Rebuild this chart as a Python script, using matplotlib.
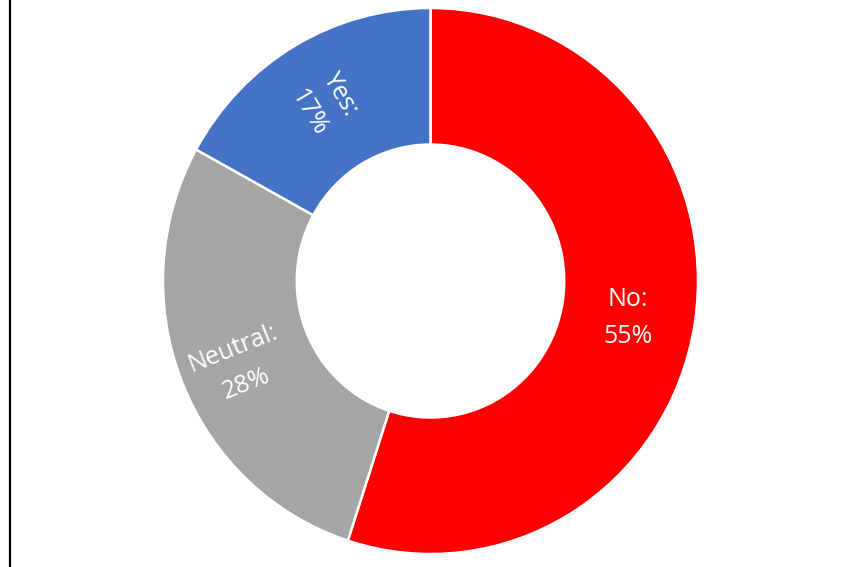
import matplotlib
matplotlib.use("Agg")
import matplotlib.pyplot as plt
from matplotlib.lines import Line2D
import numpy as np

categories = ["No", "Neutral", "Yes"]
shares = [55, 28, 17]
colors = ["#FF0000", "#A5A5A5", "#4472C4"]
label_rotations = [0, 21.6, -59.4]

W, H = 861, 567
fig = plt.figure(figsize=(W / 100, H / 100), dpi=100)
ax = fig.add_axes([0, 0, 1, 1])

cx, cy = 430.5, 281.0
rx, ry = 267.5, 273.0

wedges, _ = ax.pie(
    shares,
    colors=colors,
    startangle=90,
    counterclock=False,
    radius=1.0,
    wedgeprops=dict(width=0.5, edgecolor="white", linewidth=1.8),
)
ax.set_aspect("auto")
ax.set_xlim(-cx / rx, (W - cx) / rx)
ax.set_ylim(-(H - cy) / ry, cy / ry)
ax.axis("off")

# label placement: radius (fraction of outer) and angular nudge in degrees
label_r = [0.75, 0.78, 0.76]
label_dang = [-1.5, 2.0, 0.8]
for w, name, val, rot, r, da in zip(wedges, categories, shares,
                                    label_rotations, label_r, label_dang):
    ang = np.deg2rad((w.theta1 + w.theta2) / 2 + da)
    x, y = r * np.cos(ang), r * np.sin(ang)
    ax.text(x, y, f"{name}:\n{val}%", ha="center", va="center",
            rotation=rot, rotation_mode="anchor", color="white",
            fontsize=18, family="Open Sans", linespacing=1.65)

# left frame rule
fig.add_artist(Line2D([9.5 / W, 9.5 / W], [0, 1], transform=fig.transFigure,
                      color="black", linewidth=1.6))

fig.savefig("out.png", dpi=100)
